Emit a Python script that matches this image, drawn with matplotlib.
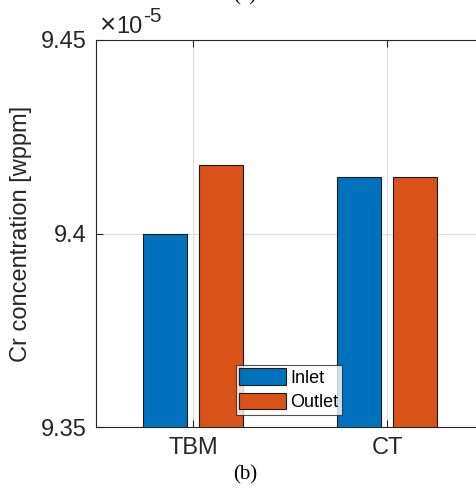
import numpy as np
import matplotlib.pyplot as plt

# data (values in units of 1e-5 wppm)
groups = ['TBM', 'CT']
inlet = [9.400, 9.4145]
outlet = [9.4177, 9.4145]
series_names = ['Inlet', 'Outlet']
ytick_vals = [9.35, 9.40, 9.45]
ytick_labels = ['9.35', '9.4', '9.45']

plt.rcParams['font.family'] = ['Liberation Sans', 'DejaVu Sans']

fig = plt.figure(figsize=(4.77, 4.91), dpi=100)
ax = fig.add_axes([96/477, 64/491, 388/477, 387/491])

x = np.arange(1, len(groups) + 1)
w = 0.227
off = 0.143
ax.bar(x - off, inlet, w, color='#0072BD', edgecolor='#1a1a1a', linewidth=0.8,
       label=series_names[0], zorder=3)
ax.bar(x + off, outlet, w, color='#D95319', edgecolor='#1a1a1a', linewidth=0.8,
       label=series_names[1], zorder=3)

ax.set_xlim(0.5, 2.5)
ax.set_ylim(9.35, 9.45)
ax.set_xticks(x)
ax.set_xticklabels(groups, fontsize=17)
ax.set_yticks(ytick_vals)
ax.set_yticklabels(ytick_labels, fontsize=17)
ax.tick_params(direction='in', length=5, color='#262626', width=0.8,
               top=True, labelcolor='#262626', pad=7)
ax.grid(True, color='#dcdcdc', linewidth=0.8, zorder=0)
for s in ax.spines.values():
    s.set_color('#262626')
    s.set_linewidth(0.8)

ax.set_ylabel('Cr concentration [wppm]', fontsize=17, color='#262626', labelpad=6)

# exponent label, MATLAB style
fig.text(99/477, 1 - 33/491, '\u00d7', fontsize=20, color='#262626',
         ha='left', va='baseline')
fig.text(116/477, 1 - 33/491, '10', fontsize=17, color='#262626',
         ha='left', va='baseline')
fig.text(143/477, 1 - 22/491, '-5', fontsize=15, color='#262626',
         ha='left', va='baseline')

leg = ax.legend(loc='lower center', bbox_to_anchor=(0.497, 0.031), fontsize=13,
                frameon=True, fancybox=False, edgecolor='#262626',
                handlelength=2.55, handleheight=1.0, handletextpad=0.25,
                borderpad=0.2, labelspacing=0.36, borderaxespad=0)
leg.get_frame().set_linewidth(0.8)

fig.text(245/477, 1 - 475/491, '(b)', fontsize=15, family='Liberation Serif',
         ha='center', va='center')
fig.text(245/477, 1.008, '(a)', fontsize=15, family='Liberation Serif',
         ha='center', va='center')

fig.savefig('out.png', dpi=100)
